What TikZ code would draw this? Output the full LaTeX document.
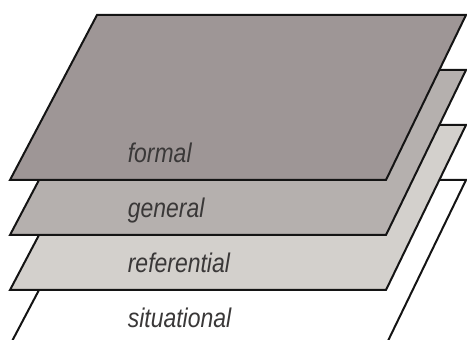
\documentclass[tikz,border=0pt]{standalone}
\usepackage{fontspec}
\setmainfont{Liberation Sans}
\usetikzlibrary{positioning}
\definecolor{cformal}{HTML}{9E9696}
\definecolor{cgeneral}{HTML}{B5B0AE}
\definecolor{creferential}{HTML}{D3D0CC}
\definecolor{csituational}{HTML}{FFFFFF}
\definecolor{cink}{HTML}{141414}
\definecolor{ctext}{HTML}{3A3838}
\tikzset{
  every picture/.style={line width=2pt, line join=miter},
  plane/.style={draw=cink, fill=#1},
  plane/.default=white,
  layer/.style={font=\itshape\fontsize{27}{27}\selectfont, text=ctext, anchor=base west, inner sep=0pt, xscale=0.85, transform shape},
}

\begin{document}
\begin{tikzpicture}[x=1pt, y=1pt]
  \useasboundingbox (0,0) rectangle (467,340);
  \clip (0,0) rectangle (467,340);
  % ---------------- planes, lowest first
  \foreach \k/\name/\col in {3/situational/csituational, 2/referential/creferential, 1/general/cgeneral, 0/formal/cformal}{
    \pgfmathsetmacro{\bot}{160-55*\k}
    \pgfmathsetmacro{\top}{325-55*\k}
    \fill[plane=\col] (10,\bot) -- (386,\bot) -- (466,\top) -- (97,\top) -- cycle;
    \node[layer] (\name) at (127,\bot+17) {\name};
  }
\end{tikzpicture}
\end{document}
